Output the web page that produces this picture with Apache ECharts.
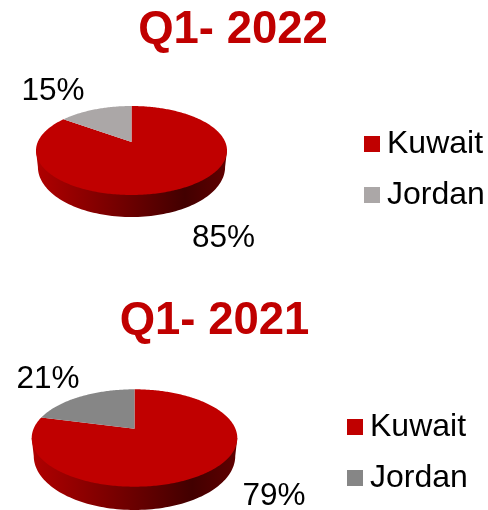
<!DOCTYPE html>
<html>
<head>
<meta charset="utf-8">
<title>Q1 share</title>
<style>
html, body { margin: 0; padding: 0; background: #fff; }
#chart { width: 488px; height: 510px; }
</style>
<script src="https://cdn.jsdelivr.net/npm/echarts@6/dist/echarts.min.js"></script>
</head>
<body>
<div id="chart"></div>
<script>
// chart values
var periods = ['Q1- 2022', 'Q1- 2021'];
var categories = ['Kuwait', 'Jordan'];
var kuwaitShares = [85, 79];
var jordanShares = [15, 21];

var FONT = '"Liberation Sans", Arial, sans-serif';
var RED = '#c00000';
var jordanColors = ['#aba7a7', '#868686'];
// tilt of the fake 3d disc
var TILT = 0.191;

// layout of each pie: top face ellipse, legend and label anchors
var layouts = [
    {
        cx: 131.5, cy: 150.5, rx: 95.5, ry: 44.5, drop: 16.5, wallRy: 50,
        titleX: 228, titleTop: 2, legendLeft: 364, legendTop: 128,
        labels: [[223.5, 238], [53, 91]]
    },
    {
        cx: 134.5, cy: 438, rx: 102.8, ry: 48.7, drop: 18, wallRy: 54,
        titleX: 209.5, titleTop: 293, legendLeft: 347, legendTop: 411,
        labels: [[274, 496], [48, 379]]
    }
];

// share around the disc, clockwise from 12 o'clock, to screen position
function discPoint(lay, pct) {
    var a = pct / 100 * Math.PI * 2;
    var u = Math.sin(a);
    var v = Math.cos(a);
    var w = 1 + TILT * v;
    var k = Math.sqrt(1 - TILT * TILT);
    var b = lay.ry * (1 - TILT * TILT);
    // projected disc centre sits above the centre of the ellipse
    return [lay.cx + lay.rx * k * u / w, lay.cy - lay.ry * TILT - b * v / w];
}

function wedgePoints(lay, from, to) {
    var pts = [[lay.cx, lay.cy - lay.ry * TILT]];
    for (var p = from; p < to; p += 0.25) {
        pts.push(discPoint(lay, p));
    }
    pts.push(discPoint(lay, to));
    return pts;
}

function wallPoints(lay) {
    var pts = [[lay.cx - lay.rx, lay.cy], [lay.cx + lay.rx, lay.cy]];
    var rx = lay.rx * 0.98;
    for (var i = 0; i <= 180; i += 2) {
        var a = i * Math.PI / 180;
        pts.push([lay.cx + rx * Math.cos(a), lay.cy + lay.drop + lay.wallRy * Math.sin(a)]);
    }
    return pts;
}

function sliceSeries(pieIndex, name, color, from, withWall) {
    var lay = layouts[pieIndex];
    var labelPos = lay.labels[withWall ? 0 : 1];
    return {
        type: 'custom',
        name: name,
        coordinateSystem: 'none',
        silent: true,
        itemStyle: { color: color },
        data: [withWall ? kuwaitShares[pieIndex] : jordanShares[pieIndex]],
        renderItem: function (params, api) {
            var value = api.value(0);
            var children = [];
            if (withWall) {
                children.push({
                    type: 'polygon',
                    shape: { points: wallPoints(lay) },
                    style: {
                        fill: new echarts.graphic.LinearGradient(0, 0, 1, 0, [
                            { offset: 0, color: '#b00000' },
                            { offset: 0.4, color: '#780000' },
                            { offset: 0.78, color: '#420000' },
                            { offset: 1, color: '#600000' }
                        ])
                    }
                });
            }
            children.push({
                type: 'polygon',
                shape: { points: wedgePoints(lay, from, from + value) },
                style: { fill: color }
            });
            children.push({
                type: 'text',
                style: {
                    text: value + '%',
                    x: labelPos[0],
                    y: labelPos[1],
                    align: 'center',
                    verticalAlign: 'middle',
                    font: '31.5px ' + FONT,
                    fill: '#000'
                }
            });
            return { type: 'group', children: children };
        }
    };
}

var series = [];
var titles = [];
var legends = [];
periods.forEach(function (period, i) {
    series.push(sliceSeries(i, categories[0], RED, 0, true));
    series.push(sliceSeries(i, categories[1], jordanColors[i], kuwaitShares[i], false));
    titles.push({
        text: period,
        left: layouts[i].titleX,
        top: layouts[i].titleTop,
        textAlign: 'center',
        textStyle: { fontFamily: FONT, fontSize: 45.5, fontWeight: 'bold', color: RED }
    });
    legends.push({
        orient: 'vertical',
        left: layouts[i].legendLeft,
        top: layouts[i].legendTop,
        padding: 0,
        itemWidth: 16,
        itemHeight: 16,
        itemGap: 19,
        icon: 'rect',
        selectedMode: false,
        textStyle: { fontFamily: FONT, fontSize: 32, color: '#000', padding: [0, 0, 0, 2] },
        data: [
            { name: categories[0], itemStyle: { color: RED } },
            { name: categories[1], itemStyle: { color: jordanColors[i] } }
        ]
    });
});

var chart = echarts.init(document.getElementById('chart'));
chart.setOption({
    animation: false,
    backgroundColor: '#fff',
    title: titles,
    legend: legends,
    series: series
});
</script>
</body>
</html>
